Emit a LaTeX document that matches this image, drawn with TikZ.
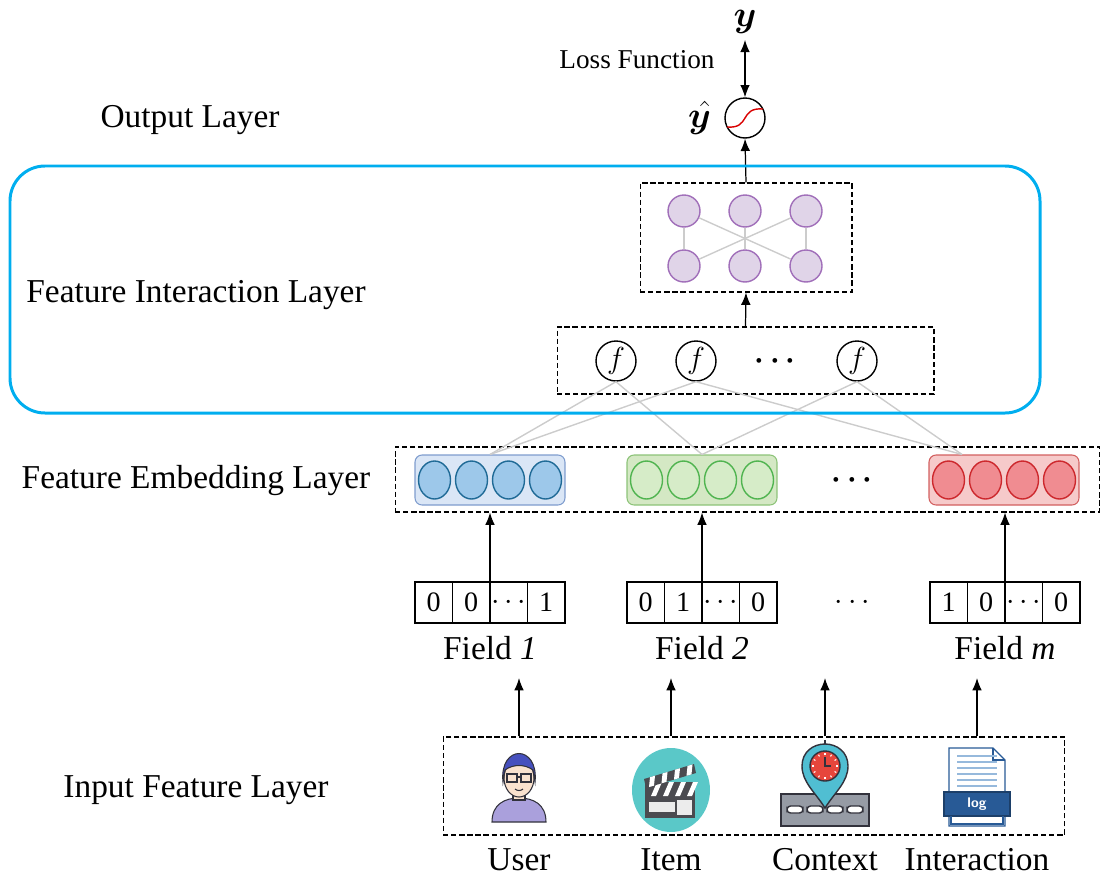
\documentclass[tikz,border=0pt]{standalone}
\usepackage{amsmath, amssymb, bm}
\usepackage{fontspec}
\setmainfont{Liberation Serif}
\usetikzlibrary{arrows.meta, positioning, calc, shapes.geometric}

\definecolor{cyanline}{RGB}{0,174,239}
\definecolor{purpfill}{RGB}{224,212,232}
\definecolor{purpdraw}{RGB}{160,110,185}
\definecolor{bluefill}{RGB}{157,200,234}
\definecolor{bluedraw}{RGB}{31,106,150}
\definecolor{bluegrp}{RGB}{218,230,246}
\definecolor{bluegrpdraw}{RGB}{126,156,206}
\definecolor{greenfill}{RGB}{214,236,200}
\definecolor{greendraw}{RGB}{80,180,80}
\definecolor{greengrp}{RGB}{212,232,196}
\definecolor{greengrpdraw}{RGB}{140,195,120}
\definecolor{redfill}{RGB}{240,140,145}
\definecolor{reddraw}{RGB}{205,40,45}
\definecolor{redgrp}{RGB}{246,202,202}
\definecolor{redgrpdraw}{RGB}{210,95,95}
\definecolor{icondark}{RGB}{50,50,60}
\definecolor{skin}{RGB}{250,226,206}
\definecolor{userbody}{RGB}{170,160,220}
\definecolor{hair}{RGB}{70,80,190}
\definecolor{tealbg}{RGB}{90,200,200}
\definecolor{clapdark}{RGB}{75,75,80}
\definecolor{roadgray}{RGB}{150,155,165}
\definecolor{pinblue}{RGB}{80,190,210}
\definecolor{clockred}{RGB}{230,70,60}
\definecolor{docblue}{RGB}{40,90,150}
\definecolor{doclight}{RGB}{150,185,220}

\tikzset{
    layername/.style={font=\fontsize{19}{22}\selectfont},
    dashbox/.style={draw, dash pattern=on 3pt off 1.6pt, line width=0.6pt, inner sep=0pt},
    arrow/.style={-{Latex[length=7pt, width=5.5pt]}, line width=0.7pt},
    fnode/.style={circle, draw, line width=0.8pt, minimum size=0.8cm, inner sep=0pt, font=\fontsize{17}{17}\selectfont},
    pnode/.style={circle, draw=purpdraw, fill=purpfill, line width=0.8pt, minimum size=0.64cm, inner sep=0pt},
    cell/.style={rectangle, draw, line width=0.7pt, minimum width=0.75cm, minimum height=0.82cm, inner sep=0pt, font=\fontsize{16}{16}\selectfont},
    group/.style={rectangle, rounded corners=4pt, minimum width=3cm, minimum height=1cm, line width=0.6pt},
    emb/.style={ellipse, minimum width=0.64cm, minimum height=0.76cm, inner sep=0pt, line width=0.8pt},
    link/.style={draw=gray!40, line width=0.8pt}
}

\begin{document}
\begin{tikzpicture}[x=0.02cm, y=-0.02cm]
    \useasboundingbox (0,0) rectangle (1102,876);

    % layer names on the left
    \node[layername] (outl) at (190,120) {Output Layer};
    \node[layername] (intl) at (196,295) {Feature Interaction Layer};
    \node[layername] (embl) at (196,481) {Feature Embedding Layer};
    \node[layername] (inl) at (196,790) {Input Feature Layer};

    % output unit
    \node[circle, draw, line width=0.8pt, minimum size=0.8cm] (sig) at (745,118) {};
    \draw[red!85!black, line width=0.8pt, shift={(sig.center)}] (-18,9) .. controls (6,11) and (-6,-11) .. (18,-9);
    \node[font=\fontsize{20}{24}\selectfont] (y) at (745,22) {$\bm{y}$};
    \node[font=\fontsize{20}{24}\selectfont, left=4pt of sig] (yhat) {$\skew{5}\hat{\bm{y}}$};
    \node[font=\fontsize{15.5}{18}\selectfont] (loss) at (637,60) {Loss Function};
    \draw[{Latex[length=7pt, width=5.5pt]}-{Latex[length=7pt, width=5.5pt]}, line width=0.7pt] (y) -- (sig);

    % interaction part
    \node[dashbox, minimum width=4.24cm, minimum height=2.18cm] (pbox) at (746,237.5) {};
    \foreach \x [count=\i] in {684,745,806} {
        \node[pnode] (pt\i) at (\x,211) {};
        \node[pnode] (pb\i) at (\x,266) {};
    }
    \foreach \i in {1,2,3}
        \draw[link] (pt\i) -- (pb\i);
    \draw[link] (pt1) -- (pb3);
    \draw[link] (pb1) -- (pt3);

    \node[dashbox, minimum width=7.54cm, minimum height=1.34cm] (fbox) at (745.5,360.5) {};
    \node[fnode] (f1) at (616,361) {$f$};
    \node[fnode] (f2) at (696,361) {$f$};
    \node[fnode] (f3) at (857,361) {$f$};
    \node[font=\fontsize{17}{17}\selectfont] (fdots) at (778,361) {$\bm{\cdots}$};

    \draw[arrow] (fbox.north) -- (pbox.south);
    \draw[arrow] (pbox.north) -- (sig.south);

    % embedding part
    \node[dashbox, minimum width=14.1cm, minimum height=1.3cm] (embbox) at (747.5,479.5) {};
    \node[group, draw=bluegrpdraw, fill=bluegrp] (g1) at (490,480) {};
    \node[group, draw=greengrpdraw, fill=greengrp] (g2) at (702,480) {};
    \node[group, draw=redgrpdraw, fill=redgrp] (g3) at (1004,480) {};
    \foreach \d in {-55.5,-18.5,18.5,55.5} {
        \node[emb, draw=bluedraw, fill=bluefill] at ($(g1.center)+(\d,0)$) {};
        \node[emb, draw=greendraw, fill=greenfill] at ($(g2.center)+(\d,0)$) {};
        \node[emb, draw=reddraw, fill=redfill] at ($(g3.center)+(\d,0)$) {};
    }
    \node[font=\fontsize{17}{17}\selectfont] (gdots) at (855,480) {$\bm{\cdots}$};

    \draw[link] (f1.south) -- (g1.north);
    \draw[link] (f1.south) -- (g2.north);
    \draw[link] (f2.south) -- (g1.north);
    \draw[link] (f2.south) -- ([xshift=-0.84cm]g3.north);
    \draw[link] (f3.south) -- (g2.north);
    \draw[link] (f3.south) -- ([xshift=-0.84cm]g3.north);

    \draw[cyanline, line width=1.7pt, rounded corners=0.7cm] (10,166) rectangle (1040,413);

    % one-hot fields
    \foreach \c/\vals in {490/{0,0,\cdots,1}, 702/{0,1,\cdots,0}, 1005/{1,0,\cdots,0}} {
        \foreach \v [count=\k] in \vals
            \node[cell] at (\c-75+37.5*\k-18.75,602.5) {$\mathrm{\v}$};
    }
    \node[minimum width=3cm, minimum height=0.82cm, inner sep=0pt] (oh1) at (490,602.5) {};
    \node[minimum width=3cm, minimum height=0.82cm, inner sep=0pt] (oh2) at (702,602.5) {};
    \node[minimum width=3cm, minimum height=0.82cm, inner sep=0pt] (oh3) at (1005,602.5) {};
    \node[font=\fontsize{16}{16}\selectfont] (ohdots) at (855,602.5) {$\cdots$};

    \node[layername, below=4pt of oh1] (fd1) {Field \textit{1}};
    \node[layername, below=4pt of oh2] (fd2) {Field \textit{2}};
    \node[layername, below=4pt of oh3] (fd3) {Field \textit{m}};

    \foreach \i in {1,2,3}
        \draw[arrow] (oh\i.north) -- (oh\i.north |- embbox.south);

    % input features
    \node[dashbox, minimum width=12.44cm, minimum height=1.96cm] (inbox) at (754,786) {};
    \foreach \x/\name [count=\i] in {519/User, 671/Item, 825/Context, 977/Interaction} {
        \node[inner sep=0pt] (ic\i) at (\x,790) {};
        \node[layername] (lab\i) at (\x,860) {\name};
        \coordinate (top\i) at (\x,678);
        \draw[arrow] (ic\i |- inbox.north) -- (top\i);
    }

    % user icon
    \begin{scope}[shift={(519,790)}, line width=0.6pt]
        \filldraw[fill=userbody, draw=icondark] (-27,32) .. controls (-27,14) and (-14,8) .. (0,8) .. controls (14,8) and (27,14) .. (27,32) -- cycle;
        \filldraw[fill=skin, draw=icondark] (-6,0) rectangle (6,10);
        \filldraw[fill=skin, draw=icondark] (0,-12) ellipse [x radius=0.3cm, y radius=0.38cm];
        \filldraw[fill=hair, draw=icondark] (-16,-8) .. controls (-20,-46) and (20,-46) .. (16,-8) -- (14,-20) .. controls (6,-26) and (-6,-26) .. (-14,-20) -- cycle;
        \draw[icondark, line width=0.7pt] (-12,-16) rectangle (-2,-8) (2,-16) rectangle (12,-8) (-2,-13) -- (2,-13);
        \draw[icondark] (-4,-1) .. controls (-2,1) and (2,1) .. (4,-1);
    \end{scope}

    % item icon
    \begin{scope}[shift={(671,790)}]
        \fill[tealbg] (0,0) ellipse [x radius=0.78cm, y radius=0.84cm];
        \fill[clapdark] (-26,-8) rectangle (24,28);
        \foreach \k in {0,1,2,3}
            \fill[white] (-20+12*\k,6) -- (-14+12*\k,-8) -- (-9+12*\k,-8) -- (-15+12*\k,6) -- cycle;
        \fill[white!85!gray] (-22,12) rectangle (4,22);
        \fill[white!85!gray] (6,10) rectangle (21,25);
        \coordinate (ca) at (-27,-11);
        \coordinate (cb) at (23,-26);
        \coordinate (cc) at (25,-17);
        \coordinate (cd) at (-25,-2);
        \fill[clapdark] (ca) -- (cb) -- (cc) -- (cd) -- cycle;
        \foreach \t in {0.12,0.37,0.62,0.87}
            \fill[white] ($(ca)!\t!(cb)$) -- ($(ca)!\t+0.1!(cb)$) -- ($(cd)!\t+0.04!(cc)$) -- ($(cd)!\t-0.06!(cc)$) -- cycle;
    \end{scope}

    % context icon
    \begin{scope}[shift={(825,790)}, line width=0.8pt]
        \filldraw[fill=roadgray, draw=icondark] (-44,4) rectangle (44,36);
        \foreach \x in {-30,-10,10,30}
            \filldraw[fill=white, draw=icondark, rounded corners=2pt] (\x-8,16) rectangle (\x+8,23);
        \filldraw[fill=pinblue, draw=icondark] (0,18) .. controls (-10,2) and (-23,-8) .. (-23,-24) .. controls (-23,-38) and (-12,-46) .. (0,-46) .. controls (12,-46) and (23,-38) .. (23,-24) .. controls (23,-8) and (10,2) .. (0,18) -- cycle;
        \draw[icondark] (0,-46) -- (0,-50);
        \filldraw[fill=clockred, draw=icondark] (0,-24) circle [radius=0.3cm];
        \foreach \a in {0,30,...,330}
            \draw[white, line width=0.6pt] ($(0,-24)+(\a:11)$) -- ($(0,-24)+(\a:13)$);
        \draw[icondark, line width=0.9pt] (0,-33) -- (0,-24) -- (6,-24);
    \end{scope}

    % interaction icon
    \begin{scope}[shift={(977,790)}, line width=0.8pt]
        \filldraw[fill=white, draw=docblue] (-28,-42) -- (16,-42) -- (28,-30) -- (28,36) -- (-28,36) -- cycle;
        \draw[docblue] (16,-42) -- (16,-30) -- (28,-30);
        \foreach \yy in {-34,-28,...,-4}
            \draw[doclight, line width=1.5pt] (-20,\yy) -- (20,\yy);
        \filldraw[fill=docblue, draw=docblue!70!black] (-33,2) rectangle (33,26);
        \node[white, font=\sffamily\bfseries\fontsize{8}{8}\selectfont] (logtxt) at (0,14) {log};
        \draw[docblue] (-26,26) -- (-26,34) -- (26,34) -- (26,26);
    \end{scope}
\end{tikzpicture}
\end{document}
